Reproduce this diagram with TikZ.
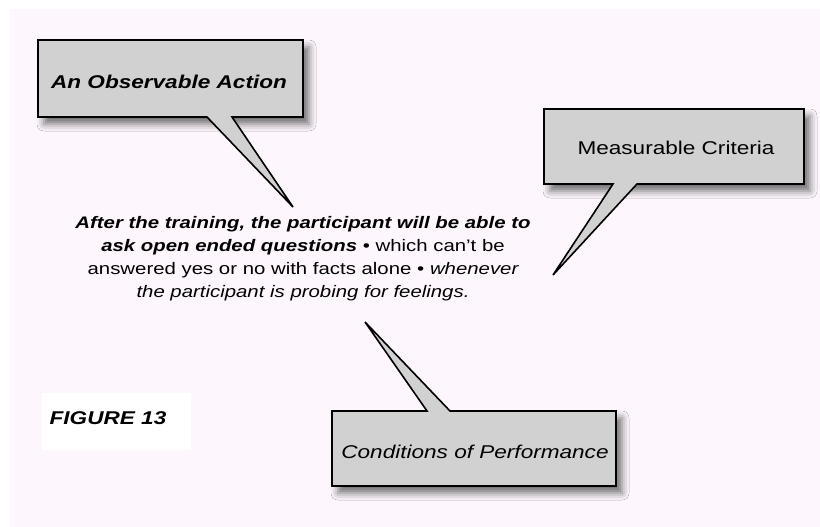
\documentclass[tikz,border=0pt]{standalone}
\usepackage{fontspec}
\setmainfont{Liberation Sans}[FakeStretch=1.22]
\usetikzlibrary{shadows.blur}
\definecolor{pagebg}{HTML}{FDF7FD}
\definecolor{boxfill}{HTML}{D1D1D1}
\tikzset{
  callout/.style={draw=black, line width=1.6pt, fill=boxfill, line join=miter},
  boxshadow/.style={blur shadow={shadow xshift=6pt, shadow yshift=-7pt,
      shadow blur radius=7pt, shadow opacity=55}},
  boxlabel/.style={font=\fontsize{18.5}{22}\selectfont, inner sep=0pt},
  bodytext/.style={font=\fontsize{16.7}{23}\selectfont, align=center, inner sep=0pt},
}
\begin{document}
\begin{tikzpicture}[x=1pt,y=-1pt]
  \useasboundingbox (0,0) rectangle (820,527);
  \fill[white] (0,0) rectangle (820,527);
  \fill[pagebg] (10,9) rectangle (820,527);

  % --- callout: observable action (tail points down-right) ---
  \coordinate (a-nw) at (38,40);   \coordinate (a-se) at (303,117);
  \coordinate (a-b1) at (207,117); \coordinate (a-b2) at (232,117);
  \coordinate (a-tip) at (293,207);
  \path[boxshadow] (a-nw) rectangle (a-se);
  \draw[callout] (a-nw) -| (a-se) -- (a-b2) -- (a-tip) -- (a-b1) -- (a-nw |- a-se) -- cycle;
  \node[boxlabel, font=\fontsize{18.5}{22}\selectfont\bfseries\itshape] (obs) at (169,82) {An Observable Action};

  % --- callout: measurable criteria (tail points down-left) ---
  \coordinate (m-nw) at (544,109); \coordinate (m-se) at (804,184);
  \coordinate (m-b1) at (613,184); \coordinate (m-b2) at (637,184);
  \coordinate (m-tip) at (553,275);
  \path[boxshadow] (m-nw) rectangle (m-se);
  \draw[callout] (m-nw) -| (m-se) -- (m-b2) -- (m-tip) -- (m-b1) -- (m-nw |- m-se) -- cycle;
  \node[boxlabel] (crit) at (676,148) {Measurable Criteria};

  % --- callout: conditions of performance (tail points up-left) ---
  \coordinate (c-nw) at (332,411); \coordinate (c-se) at (616,486);
  \coordinate (c-b1) at (427,411); \coordinate (c-b2) at (450,411);
  \coordinate (c-tip) at (365,322);
  \path[boxshadow] (c-nw) rectangle (c-se);
  \draw[callout] (c-nw) -- (c-b1) -- (c-tip) -- (c-b2) -| (c-se) -- (c-nw |- c-se) -- cycle;
  \node[boxlabel, font=\fontsize{18.5}{22}\selectfont\itshape] (cond) at (475,452) {Conditions of Performance};

  % --- objective statement ---
  \node[bodytext] (goal) at (303,259) {%
    {\bfseries\itshape After the training, the participant will be able to}\\
    {\bfseries\itshape ask open ended questions} • which can't be\\
    answered yes or no with facts alone • {\itshape whenever}\\
    {\itshape the participant is probing for feelings.}};

  % --- figure caption ---
  \fill[white] (42,393) rectangle (191,450);
  \node[boxlabel, font=\fontsize{18.5}{22}\selectfont\bfseries\itshape] (fig) at (108,418) {FIGURE 13};
\end{tikzpicture}
\end{document}
